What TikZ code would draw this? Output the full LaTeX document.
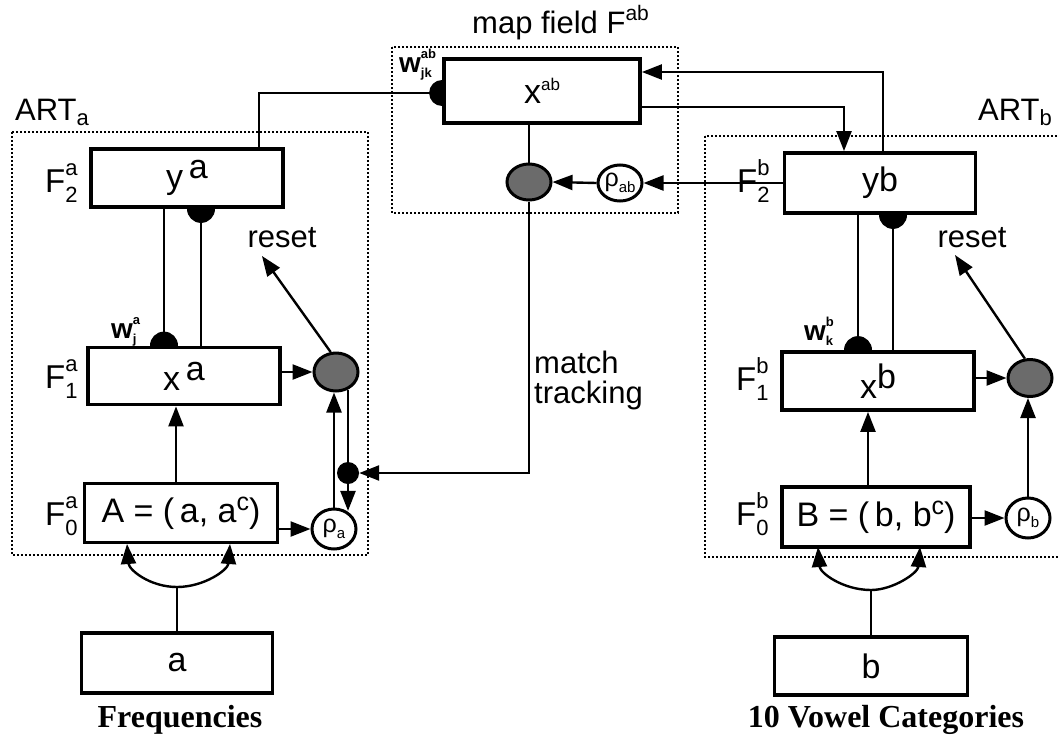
\documentclass[tikz,border=0pt]{standalone}
\usepackage{fontspec}
\setmainfont{Liberation Sans}
\newfontfamily\capfont{Liberation Serif}
\usetikzlibrary{arrows.meta,shapes.geometric,backgrounds}
\newcommand{\sz}[1]{\fontsize{#1}{#1}\selectfont}
\newcommand{\FL}[2]{\sz{33}F\makebox[0pt][l]{\raisebox{17pt}{\sz{22}#1}}\raisebox{-10pt}{\sz{22}#2}}
\newcommand{\WL}[2]{{\bfseries\sz{28}w}\makebox[0pt][l]{\raisebox{14pt}{\bfseries\sz{13}#1}}\raisebox{-5pt}{\bfseries\sz{13}#2}}
\newcommand{\RL}[1]{\sz{25}ρ\raisebox{-6pt}{\sz{15}#1}}
\begin{document}
\begin{tikzpicture}[x=1pt,y=-1pt,
  box/.style={draw,line width=3.8pt,fill=white,rectangle,inner sep=0pt,font=\sz{34}},
  graydot/.style={draw,line width=3pt,fill=black!58,ellipse,inner sep=0pt},
  rhonode/.style={draw,line width=3pt,fill=white,ellipse,inner sep=0pt},
  conn/.style={line width=2.4pt},
  arr/.style={line width=2.4pt,-{Triangle[length=20pt,width=15pt]}},
  dotbox/.style={line width=2pt,dash pattern=on 2pt off 2pt},
  lab/.style={inner sep=0pt,font=\sz{31}},
]
\useasboundingbox (0,0) rectangle (1059,739);
% dotted frames
\draw[dotbox] (12,132) rectangle (368,555);
\draw[dotbox] (392,47) rectangle (678,213);
\draw[dotbox] (705,136) rectangle (1080,557);
% boxes
\node[box,minimum width=196pt,minimum height=64pt] (xab) at (542,91) {x\raisebox{13pt}{\sz{17}ab}};
\node[box,minimum width=192pt,minimum height=58pt] (ya) at (187,178) {y\,\raisebox{10pt}{a}};
\node[box,minimum width=192pt,minimum height=57pt] (xa) at (184,376) {x\,\raisebox{10pt}{a}};
\node[box,minimum width=193pt,minimum height=59pt] (Fa0) at (181,513) {A = (\,a, a\raisebox{12pt}{\sz{25}c})};
\node[box,minimum width=191pt,minimum height=60pt] (ina) at (177,663) {a};
\node[box,minimum width=191pt,minimum height=60pt] (yb) at (880,183) {yb};
\node[box,minimum width=192pt,minimum height=58pt] (xb) at (878,381) {x\raisebox{10pt}{b}};
\node[box,minimum width=188pt,minimum height=60pt] (Fb0) at (876,517) {B = (\,b, b\raisebox{12pt}{\sz{25}c})};
\node[box,minimum width=193pt,minimum height=58pt] (inb) at (871,666) {b};
% circles
\node[graydot,minimum width=44pt,minimum height=38pt] (ga) at (336,372) {};
\node[rhonode,minimum width=44pt,minimum height=40pt] (rhoa) at (334,529) {\RL{a}};
\node[circle,fill,inner sep=0pt,minimum size=22pt] (dot) at (348,473) {};
\node[graydot,minimum width=44pt,minimum height=37pt] (gb) at (1030,378) {};
\node[rhonode,minimum width=44pt,minimum height=40pt] (rhob) at (1028,518) {\RL{b}};
\node[graydot,minimum width=44pt,minimum height=36pt] (gab) at (529,182) {};
\node[rhonode,minimum width=44pt,minimum height=36pt] (rhoab) at (620,183) {\RL{ab}};
% labels
\node[lab,anchor=base west] (F2a) at (45,192) {\FL{a}{2}};
\node[lab,anchor=base west] (F1a) at (45,388) {\FL{a}{1}};
\node[lab,anchor=base west] (F0a) at (45,525) {\FL{a}{0}};
\node[lab,anchor=base west] (F2b) at (737,192) {\FL{b}{2}};
\node[lab,anchor=base west] (F1b) at (736,390) {\FL{b}{1}};
\node[lab,anchor=base west] (F0b) at (736,525) {\FL{b}{0}};
\node[lab,anchor=base west] (wja) at (111,338) {\WL{a}{j}};
\node[lab,anchor=base west] (wkb) at (804,340) {\WL{b}{k}};
\node[lab,anchor=base west] (wjk) at (399,72) {\WL{ab}{jk}};
\node[lab,anchor=base] (reseta) at (282,247) {reset};
\node[lab,anchor=base] (resetb) at (972,247) {reset};
\node[lab,anchor=base west] (mt1) at (534,373) {match};
\node[lab,anchor=base west] (mt2) at (534,403) {tracking};
\node[lab,anchor=base west] (title) at (472,33) {map field F\raisebox{13pt}{\sz{21}ab}};
\node[lab,anchor=base west] (arta) at (15,120) {ART\raisebox{-5pt}{\sz{22}a}};
\node[lab,anchor=base west] (artb) at (978,120) {ART\raisebox{-5pt}{\sz{22}b}};
\node[inner sep=0pt,font=\capfont\bfseries\sz{32},anchor=base] (capa) at (180,727) {Frequencies};
\node[inner sep=0pt,font=\capfont\bfseries\sz{32},anchor=base] (capb) at (886,727) {10 Vowel Categories};
% coordinates
\coordinate (sab) at (xab.west |- 0,93);
\coordinate (ta) at (259,0);
\coordinate (s1) at (xa.north -| 164,0);
\coordinate (s2) at (ya.south -| 201,0);
\coordinate (s3) at (xb.north -| 858,0);
\coordinate (s4) at (yb.south -| 893,0);
\coordinate (c1) at (883,72);
\coordinate (c2) at (844,107);
\coordinate (va) at (176,0);
\coordinate (vb) at (868,0);
\coordinate (ra) at (262,256);
\coordinate (rb) at (955,255);
\coordinate (fa) at (ina.north |- 0,587);
\coordinate (fal) at (127,544);
\coordinate (far) at (230,544);
\coordinate (fb) at (inb.north |- 0,590);
\coordinate (fbl) at (818,547);
\coordinate (fbr) at (920,547);
% background connectors and half disks
\begin{scope}[on background layer]
  \fill[white] (0,0) rectangle (1059,739);
  \draw[conn] (ta |- ya.north) |- (sab);
  \fill (sab) circle[radius=13pt];
  \draw[conn] (s1 |- ya.south) -- (s1);
  \fill (s1) circle[radius=14pt];
  \draw[conn] (s2) -- (s2 |- xa.north);
  \fill (s2) circle[radius=14pt];
  \draw[conn] (s3 |- yb.south) -- (s3);
  \fill (s3) circle[radius=14pt];
  \draw[conn] (s4) -- (s4 |- xb.north);
  \fill (s4) circle[radius=14pt];
\end{scope}
% map field connectors
\draw[arr] (c1 |- yb.north) -- (c1) -- (c1 -| xab.east);
\draw[arr] (c2 -| xab.east) -- (c2) -- (c2 |- yb.north);
\draw[conn] (xab.south -| gab.north) -- (gab.north);
\draw[arr] (yb.west |- rhoab.east) -- (rhoab.east);
\draw[arr] (rhoab.west) -- (gab.east);
\draw[arr] (gab.south) -- (gab.south |- dot.east) -- (dot.east);
% ART a
\draw[arr] (xa.east |- ga.west) -- (ga.west);
\draw[arr] (ga.105) -- (ra);
\draw[arr] (va |- Fa0.north) -- (va |- xa.south);
\draw[arr] (Fa0.east |- rhoa.west) -- (rhoa.west);
\draw[arr] (rhoa.north) -- (rhoa.north |- ga.south);
\draw[conn] (dot.north |- ga.-57) -- (dot.north);
\draw[arr] (dot.south) -- (dot.south |- rhoa.55);
\draw[conn] (ina.north) -- (fa);
\draw[arr] (fa) .. controls (150,587) and (129,570) .. (fal);
\draw[arr] (fa) .. controls (204,587) and (228,570) .. (far);
% ART b
\draw[arr] (xb.east |- gb.west) -- (gb.west);
\draw[arr] (gb.105) -- (rb);
\draw[arr] (vb |- Fb0.north) -- (vb |- xb.south);
\draw[arr] (Fb0.east |- rhob.west) -- (rhob.west);
\draw[arr] (rhob.north) -- (rhob.north |- gb.south);
\draw[conn] (inb.north) -- (fb);
\draw[arr] (fb) .. controls (843,590) and (820,573) .. (fbl);
\draw[arr] (fb) .. controls (893,590) and (918,573) .. (fbr);
\end{tikzpicture}
\end{document}
